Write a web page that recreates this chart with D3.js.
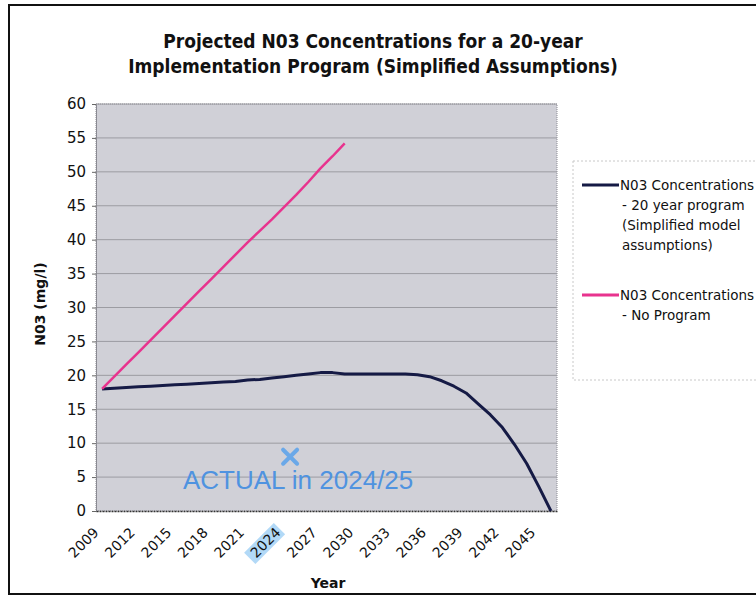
<!DOCTYPE html>
<html>
<head>
<meta charset="utf-8">
<script src="https://cdn.jsdelivr.net/npm/d3@7"></script>
<style>
  body { margin: 0; background: #fff; }
  svg { display: block; }
</style>
</head>
<body>
<div id="chart"></div>
<script>
// Data
let years = ["2009", "2010", "2011", "2012", "2013", "2014", "2015", "2016", "2017", "2018",
             "2019", "2020", "2021", "2022", "2023", "2024", "2025", "2026", "2027", "2028",
             "2029", "2030", "2031", "2032", "2033", "2034", "2035", "2036", "2037", "2038",
             "2039", "2040", "2041", "2042", "2043", "2044", "2045", "2046"];

let programValues = [18.0, 18.1, 18.2, 18.3, 18.4, 18.5, 18.6, 18.7, 18.8, 18.9,
                     19.0, 19.1, 19.3, 19.4, 19.6, 19.8, 20.0, 20.2, 20.4, 20.4,
                     20.2, 20.2, 20.2, 20.2, 20.2, 20.2, 20.1, 19.8, 19.2, 18.4,
                     17.4, 15.8, 14.2, 12.3, 9.8, 7.0, 3.6, 0];

let noProgramYears = years.slice(0, 21);
let noProgramValues = [18.0, 19.8, 21.6, 23.4, 25.2, 27.0, 28.8, 30.6, 32.4, 34.2,
                       36.0, 37.8, 39.6, 41.3, 43.0, 44.8, 46.6, 48.5, 50.5, 52.3, 54.2];

let yTicks = [0, 5, 10, 15, 20, 25, 30, 35, 40, 45, 50, 55, 60];
let xTickLabels = ["2009", "2012", "2015", "2018", "2021", "2024", "2027", "2030",
                   "2033", "2036", "2039", "2042", "2045"];

let actualPoint = { from: "2024", to: "2025", value: 8, label: "ACTUAL in 2024/25" };

let legendItems = [
  { lines: ["N03 Concentrations", "- 20 year program", "(Simplified model", "assumptions)"], color: "#151a45" },
  { lines: ["N03 Concentrations", "- No Program"], color: "#e8338e" }
];

let width = 756;
let height = 597;

let plotLeft = 96;
let plotRight = 557;
let plotTop = 104;
let plotBottom = 511;

let svg = d3.select("#chart")
  .append("svg")
  .attr("width", width)
  .attr("height", height);

// Outer frame
svg.append("rect")
  .attr("x", 9)
  .attr("y", 5)
  .attr("width", width + 10)
  .attr("height", 589)
  .style("fill", "none")
  .style("stroke", "#111")
  .style("stroke-width", 2);

// Scales
let x = d3.scaleBand()
  .domain(years)
  .range([plotLeft, plotRight]);

let y = d3.scaleLinear()
  .domain([0, 60])
  .range([plotBottom, plotTop]);

let cx = d => x(d) + x.bandwidth() / 2;

// Plot area
svg.append("rect")
  .attr("x", plotLeft)
  .attr("y", plotTop)
  .attr("width", plotRight - plotLeft)
  .attr("height", plotBottom - plotTop)
  .style("fill", "#d0d0d7")
  .style("stroke", "#8a8a92")
  .style("stroke-width", 1)
  .style("stroke-dasharray", "1,1");

// Gridlines
svg.append("g")
  .selectAll("line")
  .data(yTicks.filter(d => d > 0))
  .join("line")
  .attr("x1", plotLeft)
  .attr("x2", plotRight)
  .attr("y1", d => y(d))
  .attr("y2", d => y(d))
  .style("stroke", "#9c9ca2")
  .style("stroke-width", 1);

// Y axis
let yAxis = d3.axisLeft(y)
  .tickValues(yTicks)
  .tickSize(4)
  .tickPadding(6);

let yG = svg.append("g")
  .attr("transform", "translate(" + plotLeft + ",0)")
  .call(yAxis);
yG.select(".domain").style("stroke", "#8a8a92");
yG.selectAll(".tick line").style("stroke", "#666");
yG.selectAll("text")
  .style("font-family", "DejaVu Sans, Verdana, sans-serif")
  .style("font-size", "15px")
  .style("fill", "#111");

// X axis
let xAxis = d3.axisBottom(x)
  .tickValues(xTickLabels)
  .tickSize(0)
  .tickPadding(0);

let xG = svg.append("g")
  .attr("transform", "translate(0," + plotBottom + ")")
  .call(xAxis);
xG.select(".domain")
  .style("stroke", "#333")
  .style("stroke-width", 1.5)
  .style("stroke-dasharray", "2,1");

let labelShift = "translate(-6,19) rotate(-45)";

// highlight behind 2024 label
xG.selectAll(".tick")
  .filter(d => d === "2024")
  .insert("rect", "text")
  .attr("x", -40)
  .attr("y", -8)
  .attr("width", 42)
  .attr("height", 16)
  .attr("transform", labelShift)
  .style("fill", "#9fd0f5")
  .style("opacity", 0.8);

xG.selectAll("text")
  .attr("transform", labelShift)
  .attr("dy", "0.35em")
  .attr("y", 0)
  .style("text-anchor", "end")
  .style("font-family", "DejaVu Sans, Verdana, sans-serif")
  .style("font-size", "14px")
  .style("fill", "#111");

// Lines
let line = d3.line()
  .x(d => cx(d.year))
  .y(d => y(d.value));

svg.append("path")
  .datum(years.map((d, i) => ({ year: d, value: programValues[i] })))
  .attr("d", line)
  .style("fill", "none")
  .style("stroke", legendItems[0].color)
  .style("stroke-width", 3)
  .style("stroke-linejoin", "round");

svg.append("path")
  .datum(noProgramYears.map((d, i) => ({ year: d, value: noProgramValues[i] })))
  .attr("d", line)
  .style("fill", "none")
  .style("stroke", legendItems[1].color)
  .style("stroke-width", 2.5)
  .style("stroke-linejoin", "round");

// Actual marker
let ax = (cx(actualPoint.from) + cx(actualPoint.to)) / 2;
let ay = y(actualPoint.value);
svg.append("path")
  .attr("d", "M" + (ax - 7) + "," + (ay - 7) + "L" + (ax + 7) + "," + (ay + 7) +
             "M" + (ax + 7) + "," + (ay - 7) + "L" + (ax - 7) + "," + (ay + 7))
  .style("stroke", "#6aa8e8")
  .style("stroke-width", 4)
  .style("stroke-linecap", "round");

svg.append("text")
  .attr("x", 183)
  .attr("y", 489)
  .style("font-family", "Liberation Sans, Arial, sans-serif")
  .style("font-size", "26px")
  .style("fill", "#4f93e0")
  .text(actualPoint.label);

// Title
svg.append("text")
  .attr("x", 373)
  .attr("y", 48)
  .attr("text-anchor", "middle")
  .style("font-family", "DejaVu Sans Condensed, DejaVu Sans, sans-serif")
  .style("font-weight", 700)
  .style("font-size", "19px")
  .style("fill", "#111")
  .text("Projected N03 Concentrations for a 20-year");

svg.append("text")
  .attr("x", 373)
  .attr("y", 73)
  .attr("text-anchor", "middle")
  .style("font-family", "DejaVu Sans Condensed, DejaVu Sans, sans-serif")
  .style("font-weight", 700)
  .style("font-size", "19px")
  .style("fill", "#111")
  .text("Implementation Program (Simplified Assumptions)");

// Axis titles
svg.append("text")
  .attr("transform", "translate(45,304) rotate(-90)")
  .attr("text-anchor", "middle")
  .style("font-family", "DejaVu Sans, Verdana, sans-serif")
  .style("font-weight", 700)
  .style("font-size", "14px")
  .style("fill", "#111")
  .text("N03 (mg/l)");

svg.append("text")
  .attr("x", 328)
  .attr("y", 588)
  .attr("text-anchor", "middle")
  .style("font-family", "DejaVu Sans, Verdana, sans-serif")
  .style("font-weight", 700)
  .style("font-size", "14px")
  .style("fill", "#111")
  .text("Year");

// Legend
svg.append("rect")
  .attr("x", 573)
  .attr("y", 161)
  .attr("width", 200)
  .attr("height", 219)
  .style("fill", "#fff")
  .style("stroke", "#c8c8c8")
  .style("stroke-width", 1)
  .style("stroke-dasharray", "2,2");

let legendY = [185, 295];
legendItems.forEach(function (item, i) {
  svg.append("line")
    .attr("x1", 582)
    .attr("x2", 619)
    .attr("y1", legendY[i])
    .attr("y2", legendY[i])
    .style("stroke", item.color)
    .style("stroke-width", 3);

  let t = svg.append("text")
    .attr("x", 620)
    .attr("y", legendY[i] + 5)
    .style("font-family", "DejaVu Sans, Verdana, sans-serif")
    .style("font-size", "13.5px")
    .style("fill", "#111");
  item.lines.forEach(function (s, j) {
    t.append("tspan")
      .attr("x", j === 0 ? 620 : 622)
      .attr("dy", j === 0 ? 0 : 20)
      .text(s);
  });
});
</script>
</body>
</html>
